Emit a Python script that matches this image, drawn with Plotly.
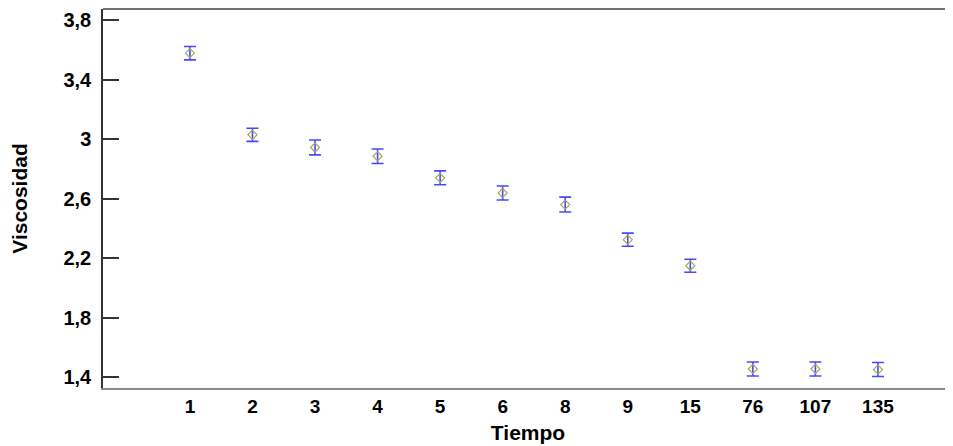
import plotly.graph_objects as go

tiempo = ["1", "2", "3", "4", "5", "6", "8", "9", "15", "76", "107", "135"]
viscosidad = [3.577, 3.028, 2.943, 2.884, 2.739, 2.637, 2.559, 2.323, 2.148, 1.454, 1.454, 1.450]
error = [0.045, 0.044, 0.050, 0.049, 0.047, 0.047, 0.050, 0.044, 0.044, 0.047, 0.047, 0.047]
y_ticks = [1.4, 1.8, 2.2, 2.6, 3.0, 3.4, 3.8]
y_tick_text = ["1,4", "1,8", "2,2", "2,6", "3", "3,4", "3,8"]

fig = go.Figure()
fig.add_trace(go.Scatter(
    x=tiempo, y=viscosidad, mode="markers",
    marker=dict(symbol="diamond-open", size=7, color="#aaa65a", line=dict(width=1.2)),
    error_y=dict(type="data", array=error, visible=True, color="rgba(40,40,255,0.85)",
                 thickness=1.6, width=6),
    showlegend=False,
))

font_bold = "Liberation Sans"
fig.update_layout(
    width=945, height=438,
    margin=dict(l=95, r=0, t=1, b=58),
    paper_bgcolor="white", plot_bgcolor="white",
    font=dict(family=font_bold, color="black"),
    xaxis=dict(
        type="category", range=[-1.39, 12.2],
        showgrid=False, zeroline=False,
        showline=True, linecolor="#8a8a8a", linewidth=2,
        ticks="", tickfont=dict(size=19, family=font_bold, weight="bold"),
        title=dict(text="<b>Tiempo</b>", font=dict(size=21), standoff=10),
    ),
    yaxis=dict(
        range=[1.326, 3.874],
        tickvals=y_ticks, ticktext=y_tick_text,
        showgrid=False, zeroline=False,
        showline=True, linecolor="#333333", linewidth=1.5,
        ticks="inside", ticklen=16, tickcolor="#333333", tickwidth=1.5,
        tickfont=dict(size=20, family=font_bold, weight="bold"),
        ticklabelstandoff=6,
        title=dict(text="<b>Viscosidad</b>", font=dict(size=21), standoff=30),
    ),
    shapes=[dict(type="line", xref="paper", yref="paper", x0=0, x1=1, y0=1, y1=1,
                 line=dict(color="#444444", width=1.5))],
)

fig.write_html("out.html")
